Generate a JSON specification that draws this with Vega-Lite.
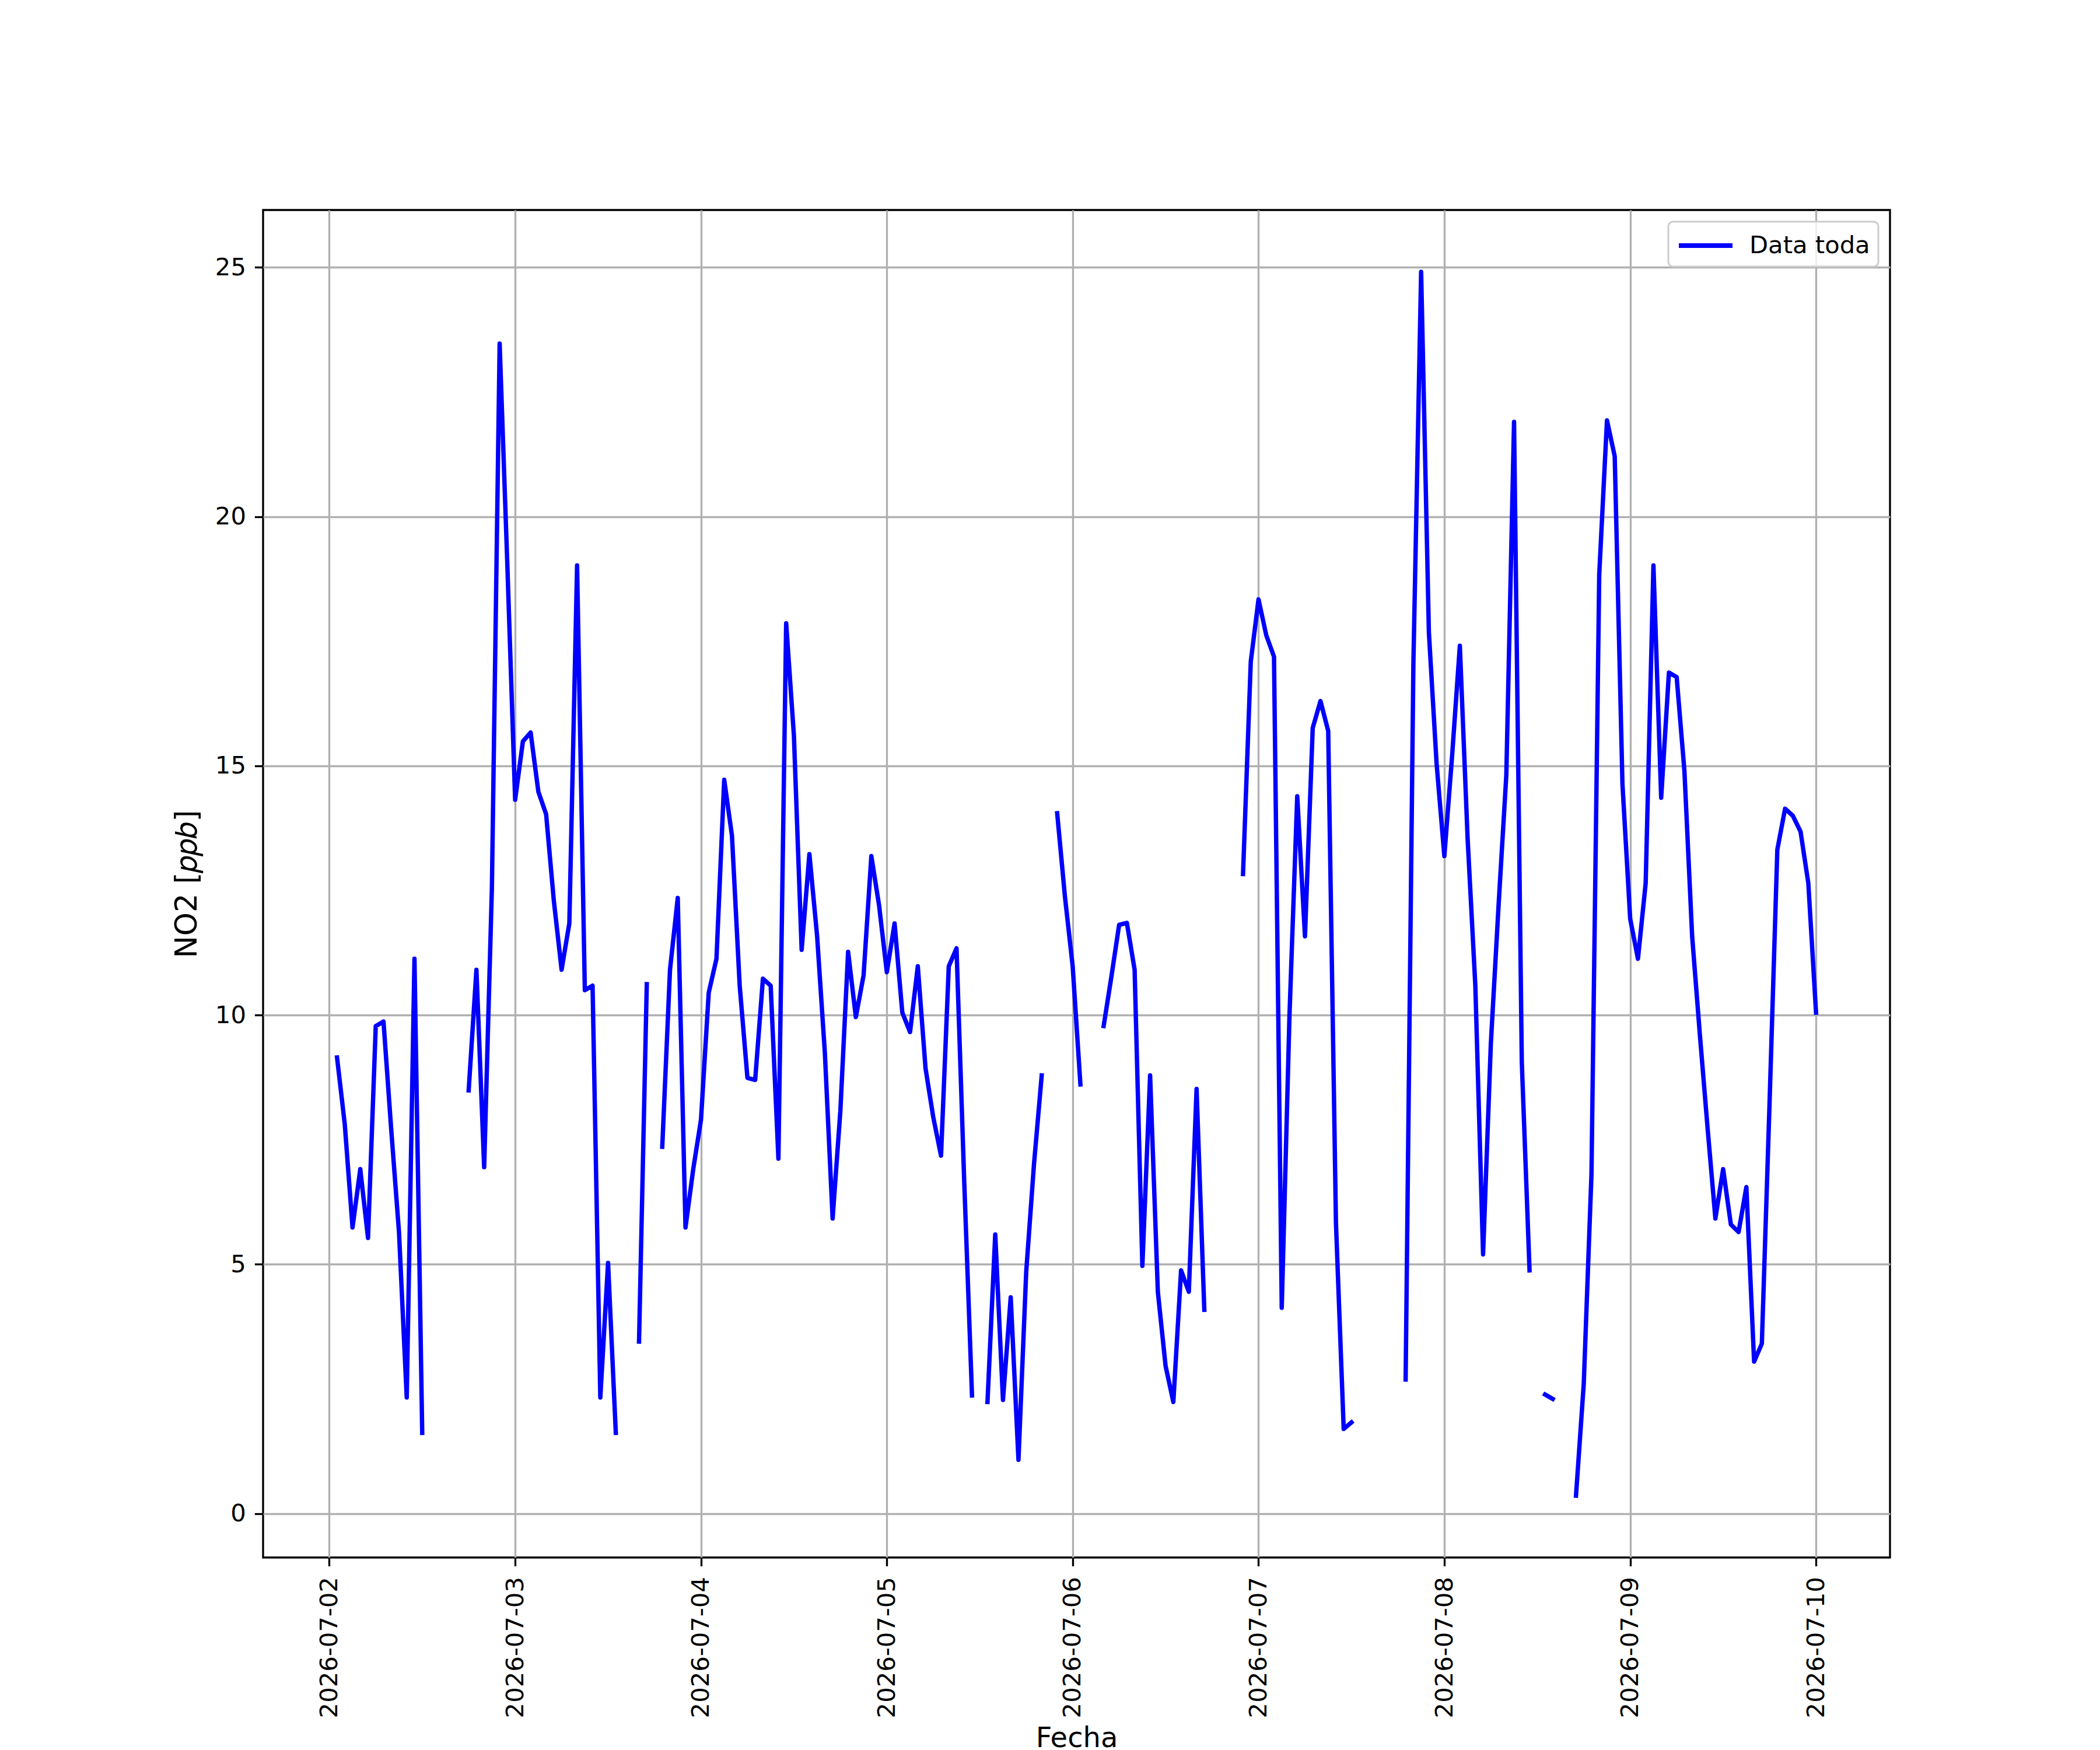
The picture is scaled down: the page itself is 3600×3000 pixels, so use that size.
{
  "$schema": "https://vega.github.io/schema/vega-lite/v6.json",
  "autosize": {"type": "none"},
  "padding": {"left": 451, "top": 360, "right": 360, "bottom": 330},
  "width": 2789,
  "height": 2310,
  "background": "white",
  "data": {
    "values": [
      {"Fecha": "2026-07-02T01:00:00", "NO2": 9.15},
      {"Fecha": "2026-07-02T02:00:00", "NO2": 7.81},
      {"Fecha": "2026-07-02T03:00:00", "NO2": 5.74},
      {"Fecha": "2026-07-02T04:00:00", "NO2": 6.91},
      {"Fecha": "2026-07-02T05:00:00", "NO2": 5.53},
      {"Fecha": "2026-07-02T06:00:00", "NO2": 9.78},
      {"Fecha": "2026-07-02T07:00:00", "NO2": 9.87},
      {"Fecha": "2026-07-02T08:00:00", "NO2": 7.7},
      {"Fecha": "2026-07-02T09:00:00", "NO2": 5.65},
      {"Fecha": "2026-07-02T10:00:00", "NO2": 2.33},
      {"Fecha": "2026-07-02T11:00:00", "NO2": 11.13},
      {"Fecha": "2026-07-02T12:00:00", "NO2": 1.62},
      {"Fecha": "2026-07-02T13:00:00", "NO2": null},
      {"Fecha": "2026-07-02T14:00:00", "NO2": null},
      {"Fecha": "2026-07-02T15:00:00", "NO2": null},
      {"Fecha": "2026-07-02T16:00:00", "NO2": null},
      {"Fecha": "2026-07-02T17:00:00", "NO2": null},
      {"Fecha": "2026-07-02T18:00:00", "NO2": 8.49},
      {"Fecha": "2026-07-02T19:00:00", "NO2": 10.91},
      {"Fecha": "2026-07-02T20:00:00", "NO2": 6.95},
      {"Fecha": "2026-07-02T21:00:00", "NO2": 12.56},
      {"Fecha": "2026-07-02T22:00:00", "NO2": 23.47},
      {"Fecha": "2026-07-02T23:00:00", "NO2": 19.0},
      {"Fecha": "2026-07-03T00:00:00", "NO2": 14.32},
      {"Fecha": "2026-07-03T01:00:00", "NO2": 15.49},
      {"Fecha": "2026-07-03T02:00:00", "NO2": 15.67},
      {"Fecha": "2026-07-03T03:00:00", "NO2": 14.48},
      {"Fecha": "2026-07-03T04:00:00", "NO2": 14.03},
      {"Fecha": "2026-07-03T05:00:00", "NO2": 12.29},
      {"Fecha": "2026-07-03T06:00:00", "NO2": 10.91},
      {"Fecha": "2026-07-03T07:00:00", "NO2": 11.84},
      {"Fecha": "2026-07-03T08:00:00", "NO2": 19.02},
      {"Fecha": "2026-07-03T09:00:00", "NO2": 10.5},
      {"Fecha": "2026-07-03T10:00:00", "NO2": 10.59},
      {"Fecha": "2026-07-03T11:00:00", "NO2": 2.33},
      {"Fecha": "2026-07-03T12:00:00", "NO2": 5.03},
      {"Fecha": "2026-07-03T13:00:00", "NO2": 1.62},
      {"Fecha": "2026-07-03T14:00:00", "NO2": null},
      {"Fecha": "2026-07-03T15:00:00", "NO2": null},
      {"Fecha": "2026-07-03T16:00:00", "NO2": 3.45},
      {"Fecha": "2026-07-03T17:00:00", "NO2": 10.62},
      {"Fecha": "2026-07-03T18:00:00", "NO2": null},
      {"Fecha": "2026-07-03T19:00:00", "NO2": 7.36},
      {"Fecha": "2026-07-03T20:00:00", "NO2": 10.91},
      {"Fecha": "2026-07-03T21:00:00", "NO2": 12.35},
      {"Fecha": "2026-07-03T22:00:00", "NO2": 5.74},
      {"Fecha": "2026-07-03T23:00:00", "NO2": 6.91},
      {"Fecha": "2026-07-04T00:00:00", "NO2": 7.9},
      {"Fecha": "2026-07-04T01:00:00", "NO2": 10.45},
      {"Fecha": "2026-07-04T02:00:00", "NO2": 11.13},
      {"Fecha": "2026-07-04T03:00:00", "NO2": 14.72},
      {"Fecha": "2026-07-04T04:00:00", "NO2": 13.6},
      {"Fecha": "2026-07-04T05:00:00", "NO2": 10.59},
      {"Fecha": "2026-07-04T06:00:00", "NO2": 8.74},
      {"Fecha": "2026-07-04T07:00:00", "NO2": 8.7},
      {"Fecha": "2026-07-04T08:00:00", "NO2": 10.73},
      {"Fecha": "2026-07-04T09:00:00", "NO2": 10.59},
      {"Fecha": "2026-07-04T10:00:00", "NO2": 7.12},
      {"Fecha": "2026-07-04T11:00:00", "NO2": 17.86},
      {"Fecha": "2026-07-04T12:00:00", "NO2": 15.61},
      {"Fecha": "2026-07-04T13:00:00", "NO2": 11.31},
      {"Fecha": "2026-07-04T14:00:00", "NO2": 13.23},
      {"Fecha": "2026-07-04T15:00:00", "NO2": 11.58},
      {"Fecha": "2026-07-04T16:00:00", "NO2": 9.24},
      {"Fecha": "2026-07-04T17:00:00", "NO2": 5.92},
      {"Fecha": "2026-07-04T18:00:00", "NO2": 8.08},
      {"Fecha": "2026-07-04T19:00:00", "NO2": 11.27},
      {"Fecha": "2026-07-04T20:00:00", "NO2": 9.96},
      {"Fecha": "2026-07-04T21:00:00", "NO2": 10.8},
      {"Fecha": "2026-07-04T22:00:00", "NO2": 13.19},
      {"Fecha": "2026-07-04T23:00:00", "NO2": 12.2},
      {"Fecha": "2026-07-05T00:00:00", "NO2": 10.86},
      {"Fecha": "2026-07-05T01:00:00", "NO2": 11.84},
      {"Fecha": "2026-07-05T02:00:00", "NO2": 10.05},
      {"Fecha": "2026-07-05T03:00:00", "NO2": 9.66},
      {"Fecha": "2026-07-05T04:00:00", "NO2": 10.98},
      {"Fecha": "2026-07-05T05:00:00", "NO2": 8.93},
      {"Fecha": "2026-07-05T06:00:00", "NO2": 7.95},
      {"Fecha": "2026-07-05T07:00:00", "NO2": 7.18},
      {"Fecha": "2026-07-05T08:00:00", "NO2": 10.98},
      {"Fecha": "2026-07-05T09:00:00", "NO2": 11.34},
      {"Fecha": "2026-07-05T10:00:00", "NO2": 6.64},
      {"Fecha": "2026-07-05T11:00:00", "NO2": 2.37},
      {"Fecha": "2026-07-05T12:00:00", "NO2": null},
      {"Fecha": "2026-07-05T13:00:00", "NO2": 2.24},
      {"Fecha": "2026-07-05T14:00:00", "NO2": 5.6},
      {"Fecha": "2026-07-05T15:00:00", "NO2": 2.28},
      {"Fecha": "2026-07-05T16:00:00", "NO2": 4.34},
      {"Fecha": "2026-07-05T17:00:00", "NO2": 1.08},
      {"Fecha": "2026-07-05T18:00:00", "NO2": 4.85},
      {"Fecha": "2026-07-05T19:00:00", "NO2": 7.0},
      {"Fecha": "2026-07-05T20:00:00", "NO2": 8.79},
      {"Fecha": "2026-07-05T21:00:00", "NO2": null},
      {"Fecha": "2026-07-05T22:00:00", "NO2": 14.05},
      {"Fecha": "2026-07-05T23:00:00", "NO2": 12.38},
      {"Fecha": "2026-07-06T00:00:00", "NO2": 10.98},
      {"Fecha": "2026-07-06T01:00:00", "NO2": 8.61},
      {"Fecha": "2026-07-06T02:00:00", "NO2": null},
      {"Fecha": "2026-07-06T03:00:00", "NO2": null},
      {"Fecha": "2026-07-06T04:00:00", "NO2": 9.78},
      {"Fecha": "2026-07-06T05:00:00", "NO2": 10.77},
      {"Fecha": "2026-07-06T06:00:00", "NO2": 11.81},
      {"Fecha": "2026-07-06T07:00:00", "NO2": 11.85},
      {"Fecha": "2026-07-06T08:00:00", "NO2": 10.91},
      {"Fecha": "2026-07-06T09:00:00", "NO2": 4.97},
      {"Fecha": "2026-07-06T10:00:00", "NO2": 8.79},
      {"Fecha": "2026-07-06T11:00:00", "NO2": 4.45},
      {"Fecha": "2026-07-06T12:00:00", "NO2": 2.96},
      {"Fecha": "2026-07-06T13:00:00", "NO2": 2.24},
      {"Fecha": "2026-07-06T14:00:00", "NO2": 4.88},
      {"Fecha": "2026-07-06T15:00:00", "NO2": 4.45},
      {"Fecha": "2026-07-06T16:00:00", "NO2": 8.52},
      {"Fecha": "2026-07-06T17:00:00", "NO2": 4.09},
      {"Fecha": "2026-07-06T18:00:00", "NO2": null},
      {"Fecha": "2026-07-06T19:00:00", "NO2": null},
      {"Fecha": "2026-07-06T20:00:00", "NO2": null},
      {"Fecha": "2026-07-06T21:00:00", "NO2": null},
      {"Fecha": "2026-07-06T22:00:00", "NO2": 12.83},
      {"Fecha": "2026-07-06T23:00:00", "NO2": 17.09},
      {"Fecha": "2026-07-07T00:00:00", "NO2": 18.34},
      {"Fecha": "2026-07-07T01:00:00", "NO2": 17.62},
      {"Fecha": "2026-07-07T02:00:00", "NO2": 17.19},
      {"Fecha": "2026-07-07T03:00:00", "NO2": 4.13},
      {"Fecha": "2026-07-07T04:00:00", "NO2": 10.0},
      {"Fecha": "2026-07-07T05:00:00", "NO2": 14.39},
      {"Fecha": "2026-07-07T06:00:00", "NO2": 11.58},
      {"Fecha": "2026-07-07T07:00:00", "NO2": 15.76},
      {"Fecha": "2026-07-07T08:00:00", "NO2": 16.3},
      {"Fecha": "2026-07-07T09:00:00", "NO2": 15.7},
      {"Fecha": "2026-07-07T10:00:00", "NO2": 5.83},
      {"Fecha": "2026-07-07T11:00:00", "NO2": 1.7},
      {"Fecha": "2026-07-07T12:00:00", "NO2": 1.83},
      {"Fecha": "2026-07-07T13:00:00", "NO2": null},
      {"Fecha": "2026-07-07T14:00:00", "NO2": null},
      {"Fecha": "2026-07-07T15:00:00", "NO2": null},
      {"Fecha": "2026-07-07T16:00:00", "NO2": null},
      {"Fecha": "2026-07-07T17:00:00", "NO2": null},
      {"Fecha": "2026-07-07T18:00:00", "NO2": null},
      {"Fecha": "2026-07-07T19:00:00", "NO2": 2.69},
      {"Fecha": "2026-07-07T20:00:00", "NO2": 17.05},
      {"Fecha": "2026-07-07T21:00:00", "NO2": 24.91},
      {"Fecha": "2026-07-07T22:00:00", "NO2": 17.68},
      {"Fecha": "2026-07-07T23:00:00", "NO2": 15.04},
      {"Fecha": "2026-07-08T00:00:00", "NO2": 13.19},
      {"Fecha": "2026-07-08T01:00:00", "NO2": 15.2},
      {"Fecha": "2026-07-08T02:00:00", "NO2": 17.41},
      {"Fecha": "2026-07-08T03:00:00", "NO2": 13.55},
      {"Fecha": "2026-07-08T04:00:00", "NO2": 10.59},
      {"Fecha": "2026-07-08T05:00:00", "NO2": 5.2},
      {"Fecha": "2026-07-08T06:00:00", "NO2": 9.42},
      {"Fecha": "2026-07-08T07:00:00", "NO2": 12.2},
      {"Fecha": "2026-07-08T08:00:00", "NO2": 14.81},
      {"Fecha": "2026-07-08T09:00:00", "NO2": 21.9},
      {"Fecha": "2026-07-08T10:00:00", "NO2": 9.06},
      {"Fecha": "2026-07-08T11:00:00", "NO2": 4.88},
      {"Fecha": "2026-07-08T12:00:00", "NO2": null},
      {"Fecha": "2026-07-08T13:00:00", "NO2": 2.39},
      {"Fecha": "2026-07-08T14:00:00", "NO2": 2.3},
      {"Fecha": "2026-07-08T15:00:00", "NO2": null},
      {"Fecha": "2026-07-08T16:00:00", "NO2": null},
      {"Fecha": "2026-07-08T17:00:00", "NO2": 0.36},
      {"Fecha": "2026-07-08T18:00:00", "NO2": 2.6},
      {"Fecha": "2026-07-08T19:00:00", "NO2": 6.82},
      {"Fecha": "2026-07-08T20:00:00", "NO2": 18.84},
      {"Fecha": "2026-07-08T21:00:00", "NO2": 21.93},
      {"Fecha": "2026-07-08T22:00:00", "NO2": 21.21},
      {"Fecha": "2026-07-08T23:00:00", "NO2": 14.63},
      {"Fecha": "2026-07-09T00:00:00", "NO2": 11.93},
      {"Fecha": "2026-07-09T01:00:00", "NO2": 11.13},
      {"Fecha": "2026-07-09T02:00:00", "NO2": 12.65},
      {"Fecha": "2026-07-09T03:00:00", "NO2": 19.02},
      {"Fecha": "2026-07-09T04:00:00", "NO2": 14.36},
      {"Fecha": "2026-07-09T05:00:00", "NO2": 16.87},
      {"Fecha": "2026-07-09T06:00:00", "NO2": 16.78},
      {"Fecha": "2026-07-09T07:00:00", "NO2": 14.9},
      {"Fecha": "2026-07-09T08:00:00", "NO2": 11.58},
      {"Fecha": "2026-07-09T09:00:00", "NO2": 9.6},
      {"Fecha": "2026-07-09T10:00:00", "NO2": 7.72},
      {"Fecha": "2026-07-09T11:00:00", "NO2": 5.92},
      {"Fecha": "2026-07-09T12:00:00", "NO2": 6.91},
      {"Fecha": "2026-07-09T13:00:00", "NO2": 5.8},
      {"Fecha": "2026-07-09T14:00:00", "NO2": 5.65},
      {"Fecha": "2026-07-09T15:00:00", "NO2": 6.55},
      {"Fecha": "2026-07-09T16:00:00", "NO2": 3.05},
      {"Fecha": "2026-07-09T17:00:00", "NO2": 3.41},
      {"Fecha": "2026-07-09T18:00:00", "NO2": 8.26},
      {"Fecha": "2026-07-09T19:00:00", "NO2": 13.32},
      {"Fecha": "2026-07-09T20:00:00", "NO2": 14.14},
      {"Fecha": "2026-07-09T21:00:00", "NO2": 14.0},
      {"Fecha": "2026-07-09T22:00:00", "NO2": 13.68},
      {"Fecha": "2026-07-09T23:00:00", "NO2": 12.65},
      {"Fecha": "2026-07-10T00:00:00", "NO2": 10.05}
    ]
  },
  "mark": {
    "type": "line",
    "strokeWidth": 7.5,
    "strokeJoin": "round",
    "strokeCap": "square",
    "invalid": "break-paths-show-domains"
  },
  "encoding": {
    "x": {
      "field": "Fecha",
      "type": "temporal",
      "title": "Fecha",
      "scale": {
        "domain": [
          {"year": 2026, "month": 7, "date": 1, "hours": 15, "minutes": 27},
          {"year": 2026, "month": 7, "date": 10, "hours": 9, "minutes": 33}
        ]
      },
      "axis": {
        "format": "%Y-%m-%d",
        "tickCount": {"interval": "day", "step": 1},
        "labelAngle": -90,
        "labelPadding": 18,
        "titleY": 324,
        "titleBaseline": "alphabetic",
        "titleFontSize": 48
      }
    },
    "y": {
      "field": "NO2",
      "type": "quantitative",
      "title": "NO2 [𝑝𝑝𝑏]",
      "scale": {"domain": [-0.88, 26.15], "nice": false, "zero": false},
      "axis": {
        "values": [0, 5, 10, 15, 20, 25],
        "labelPadding": 15,
        "titlePadding": 21,
        "titleFontSize": 51
      }
    },
    "color": {
      "datum": "Data toda",
      "type": "nominal",
      "scale": {"range": ["#0000ff"]},
      "legend": {
        "title": null,
        "orient": "top-right",
        "offset": 20,
        "symbolType": "M-2,0L2,0",
        "symbolSize": 2116,
        "symbolStrokeWidth": 8,
        "symbolOffset": 23,
        "labelOffset": 48,
        "labelLimit": 0,
        "padding": 14,
        "strokeColor": "#cccccc",
        "cornerRadius": 8,
        "fillColor": "rgba(255,255,255,0.8)",
        "encode": {
          "legend": {"update": {"strokeWidth": {"value": 3}}}
        }
      }
    }
  },
  "config": {
    "font": "DejaVu Sans",
    "view": {"stroke": "black", "strokeWidth": 3.33},
    "axis": {
      "domain": false,
      "grid": true,
      "gridColor": "#b0b0b0",
      "gridWidth": 3.33,
      "tickColor": "black",
      "tickWidth": 3.33,
      "tickSize": 14.6,
      "labelFont": "DejaVu Sans",
      "labelFontSize": 41.7,
      "labelColor": "black",
      "labelLimit": 0,
      "titleFont": "DejaVu Sans",
      "titleFontWeight": "normal",
      "titleColor": "black"
    },
    "legend": {
      "labelFont": "DejaVu Sans",
      "labelFontSize": 41.7,
      "labelColor": "black"
    }
  }
}
